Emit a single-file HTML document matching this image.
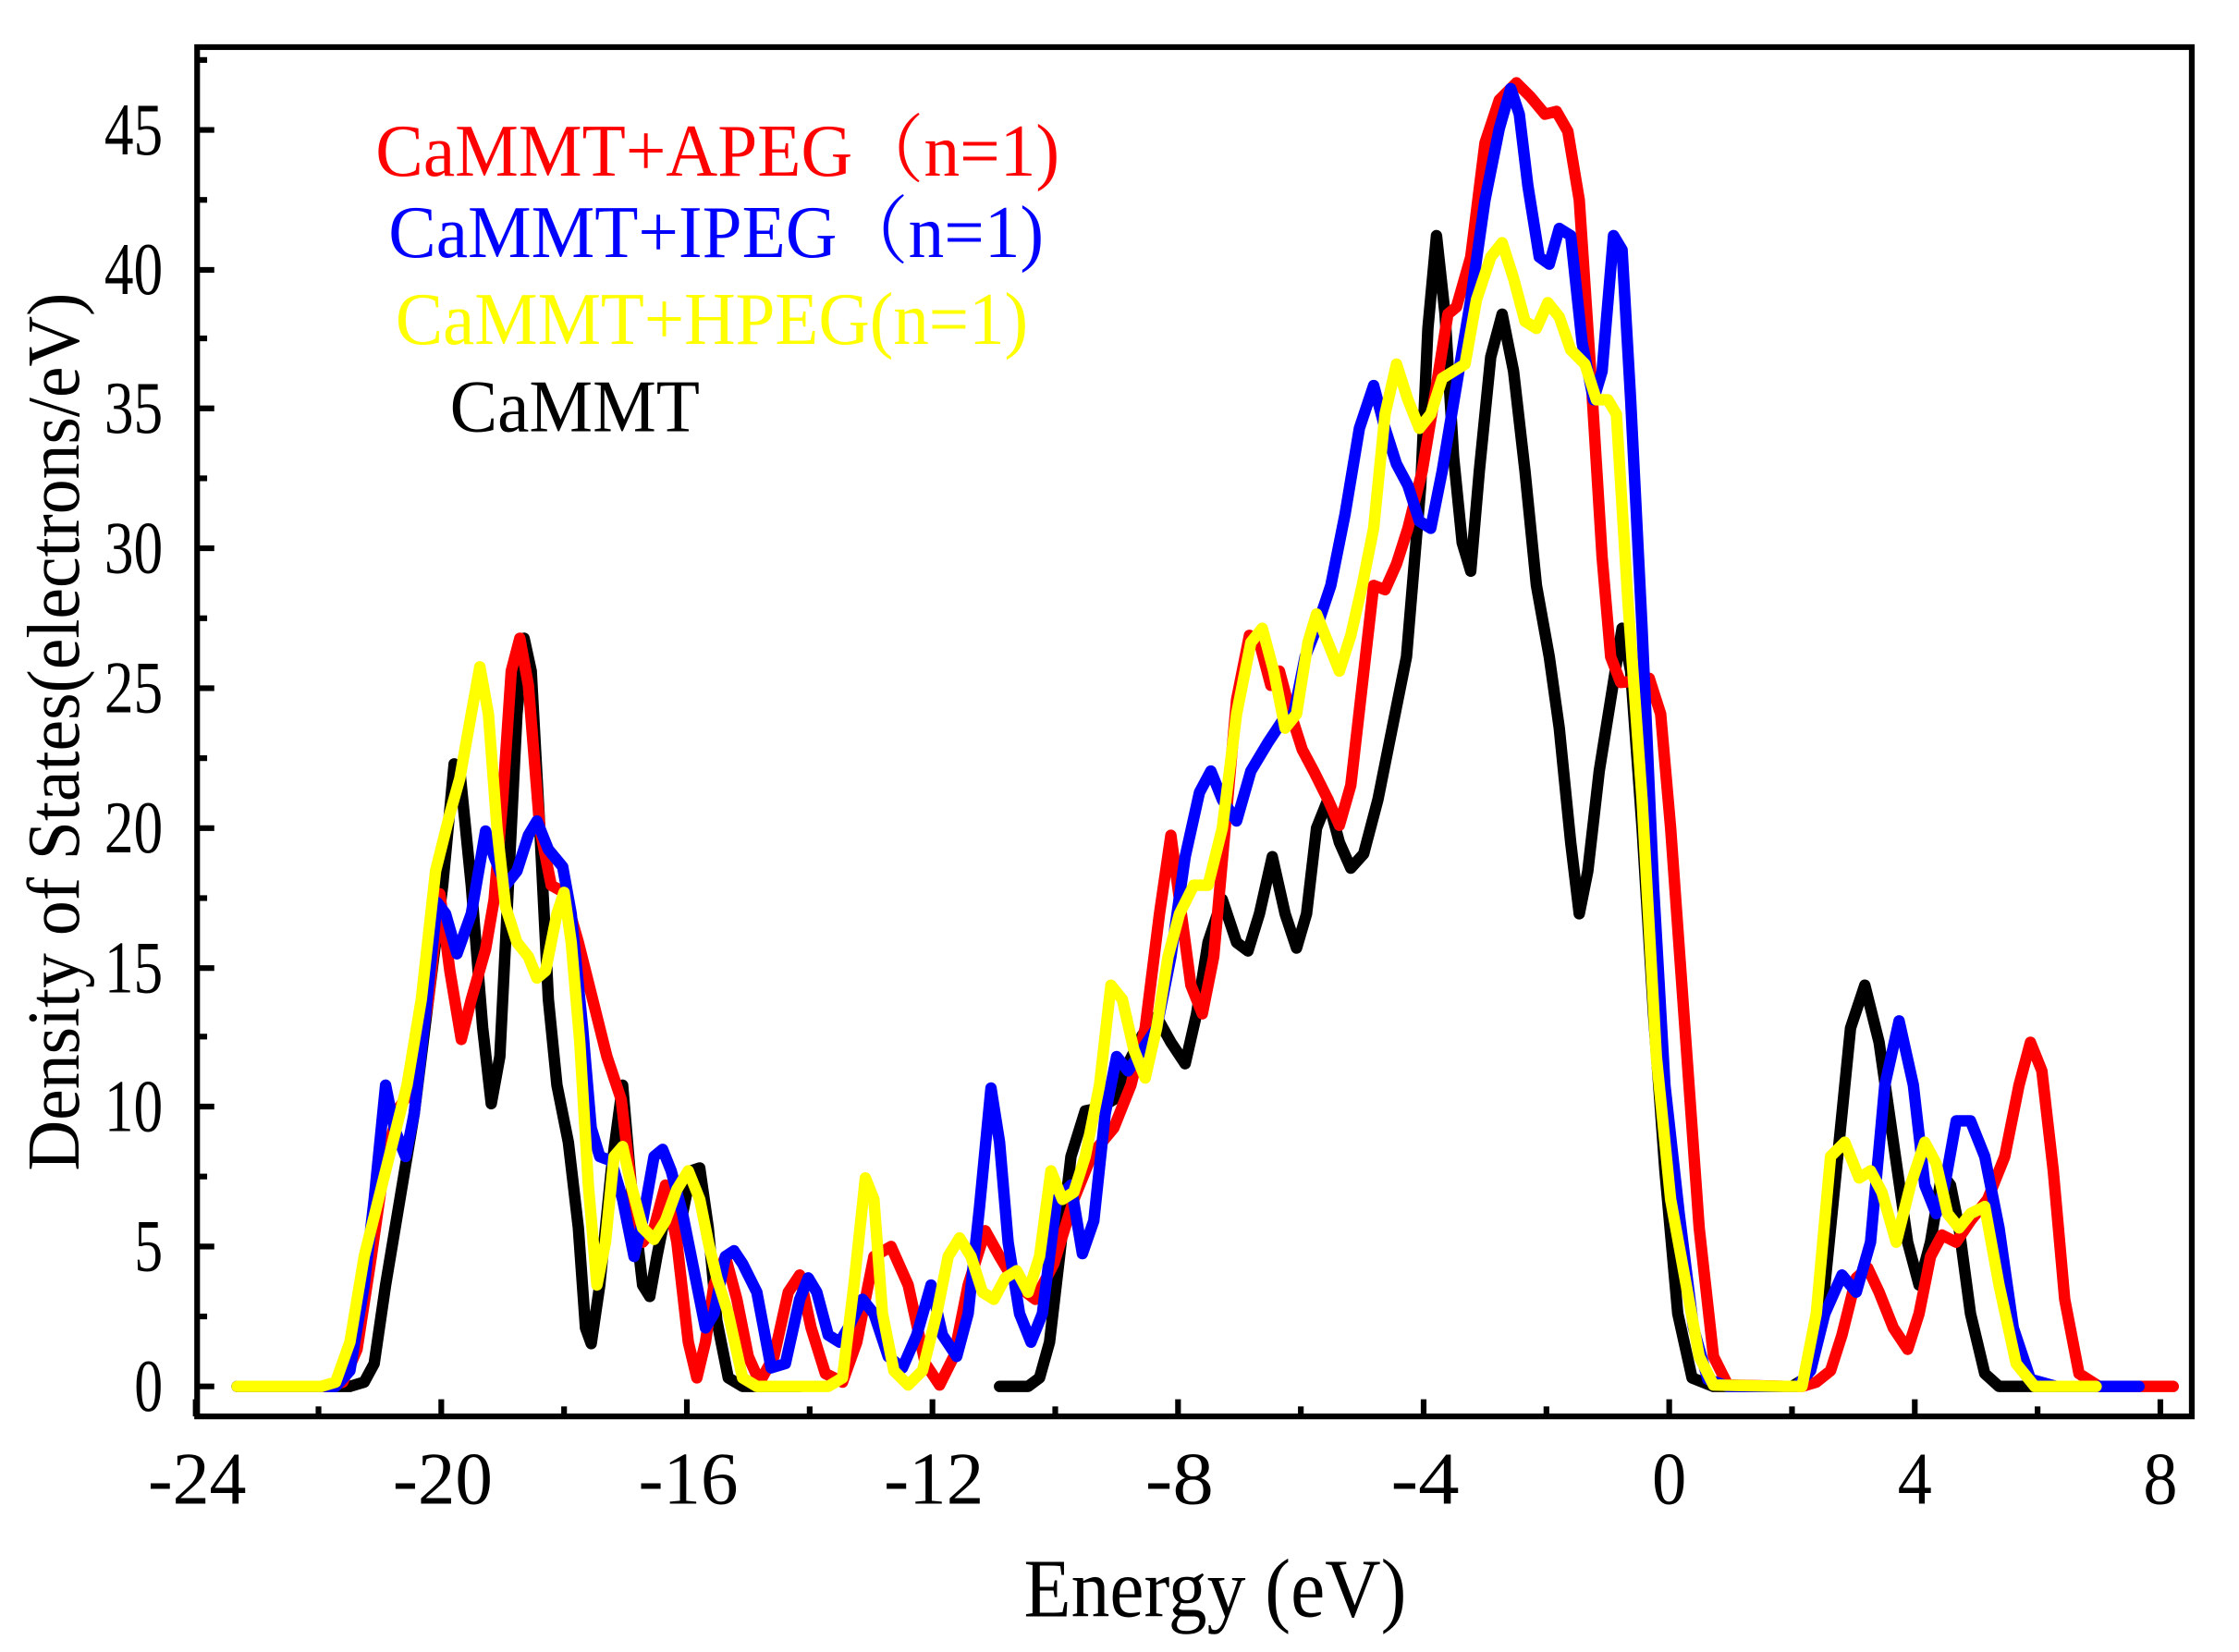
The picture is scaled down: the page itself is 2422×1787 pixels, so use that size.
<!DOCTYPE html>
<html><head><meta charset="utf-8"><style>
html,body{margin:0;padding:0;background:#fff;}
svg{display:block;}
text{font-family:"Liberation Serif","Noto Serif CJK SC",serif;}
</style></head><body>
<svg width="2422" height="1787" viewBox="0 0 1568 1157" xmlns="http://www.w3.org/2000/svg">
<rect width="1568" height="1157" fill="#fff"/>
<g fill="none" stroke-width="8" stroke-linejoin="round" stroke-linecap="round">
<polyline stroke="#000" points="166,971 245,971 255,968 262,955 270,900 280,840 290,780 300,700 310,620 318,535 322,540 330,620 338,720 344,773 350,740 356,620 362,500 367,447 372,470 378,580 384,700 390,760 398,800 405,860 410,930 414,941 420,900 428,820 436,760 442,830 450,900 455,908 460,880 466,850 472,855 478,850 484,820 490,818 496,860 502,925 510,965 520,971 560,971"/>
<polyline stroke="#000" points="700,971 720,971 728,965 735,940 742,880 750,810 760,778 770,776 780,770 790,745 800,725 810,712 820,730 830,745 838,710 846,660 856,630 866,660 874,666 882,640 891,600 900,640 908,664 915,640 922,580 930,560 938,590 946,608 955,598 965,560 975,510 985,460 995,340 1000,230 1006,165 1012,220 1018,320 1024,380 1030,400 1036,330 1044,250 1052,220 1060,260 1068,330 1076,410 1085,460 1092,510 1100,590 1106,640 1112,610 1120,540 1128,490 1136,440 1142,470 1150,580 1158,710 1166,820 1175,920 1185,965 1200,971 1255,971 1265,965 1275,930 1285,830 1296,720 1306,690 1316,730 1326,800 1336,870 1344,900 1352,870 1360,822 1366,830 1372,860 1380,920 1390,962 1400,971 1490,971"/>
<polyline stroke="#ff0000" points="166,971 230,971 240,968 250,945 260,880 270,810 280,775 290,760 300,700 308,626 315,680 323,728 330,700 340,665 346,630 352,560 358,470 364,447 370,480 378,580 386,620 395,625 405,660 415,700 425,740 435,770 442,830 450,870 458,860 466,830 474,870 482,940 488,965 494,940 500,900 508,880 516,910 524,950 532,968 542,950 552,905 560,893 568,930 578,962 590,968 600,940 612,880 624,873 636,900 648,955 658,970 668,950 678,900 690,862 700,880 712,900 725,910 738,885 752,840 765,808 780,790 792,760 802,720 812,640 820,585 826,630 834,690 842,710 850,670 858,580 866,490 875,445 882,450 890,480 896,470 904,500 912,525 920,540 930,560 938,578 946,550 954,480 962,410 970,413 978,395 986,370 996,330 1006,270 1014,220 1020,215 1030,180 1040,100 1050,70 1062,58 1072,68 1082,80 1090,78 1098,92 1106,140 1114,260 1122,390 1128,460 1135,478 1145,477 1155,475 1163,500 1170,580 1180,720 1190,860 1200,950 1210,970 1250,971 1262,971 1272,968 1282,960 1290,935 1300,895 1308,888 1316,905 1326,930 1336,945 1344,920 1352,880 1360,865 1370,870 1380,855 1392,840 1404,810 1414,760 1422,730 1430,750 1438,820 1446,910 1456,962 1470,971 1522,971"/>
<polyline stroke="#0000ff" points="166,971 235,971 245,960 255,900 262,840 270,760 276,790 284,810 290,780 298,710 306,632 312,640 320,668 330,640 340,582 346,600 354,620 362,610 370,585 376,575 384,595 394,607 400,640 408,720 414,790 420,810 428,813 436,840 444,880 450,855 458,810 464,805 470,820 478,850 486,890 494,930 500,920 508,880 514,876 520,885 530,905 540,958 550,955 560,910 566,895 572,905 580,935 588,940 594,930 604,910 612,920 622,950 632,958 642,935 652,900 660,935 670,950 678,920 686,845 694,762 700,800 706,870 714,920 722,940 730,920 740,840 750,830 758,878 766,855 774,780 782,740 790,750 800,735 810,720 820,670 830,600 840,555 848,540 856,560 866,575 876,540 888,520 898,505 906,500 914,460 922,440 932,410 942,360 952,300 962,270 970,300 978,325 986,340 994,365 1002,370 1010,330 1020,270 1030,210 1040,140 1050,90 1058,62 1064,80 1070,130 1078,180 1085,185 1092,160 1100,165 1108,240 1116,280 1122,260 1130,165 1136,175 1142,280 1150,440 1158,620 1166,760 1176,850 1186,930 1196,966 1210,971 1258,971 1268,960 1278,920 1290,893 1300,905 1310,870 1320,760 1330,715 1340,760 1348,830 1356,850 1362,830 1370,785 1380,785 1390,810 1400,860 1410,930 1422,966 1440,971 1498,971"/>
<polyline stroke="#ffff00" points="166,971 225,971 235,968 245,940 255,880 265,840 275,800 285,760 295,700 305,610 315,570 322,545 330,500 336,467 342,500 348,580 354,635 362,660 370,670 376,685 382,680 390,640 395,625 400,660 406,730 412,830 418,900 424,870 430,810 436,803 442,830 450,860 458,868 466,855 474,833 482,820 490,840 496,870 502,895 510,920 520,965 530,971 580,971 590,965 598,900 606,825 612,840 618,920 626,960 636,970 646,960 656,920 664,880 672,867 680,880 688,905 696,910 704,895 712,890 720,905 728,880 736,820 744,840 752,835 760,810 770,760 778,690 786,700 794,735 802,755 810,720 818,670 826,640 836,620 846,620 856,580 866,500 876,450 884,440 892,470 900,510 908,500 916,450 922,430 930,450 938,470 946,445 954,410 962,370 970,290 978,255 986,280 994,300 1002,290 1010,265 1018,260 1026,255 1034,210 1044,180 1052,170 1060,195 1068,225 1076,230 1084,212 1092,222 1100,245 1110,255 1118,280 1126,280 1132,290 1140,420 1150,560 1160,740 1170,840 1180,895 1190,950 1200,970 1250,971 1262,971 1272,920 1282,810 1292,800 1302,825 1310,820 1318,835 1328,870 1338,830 1348,800 1356,815 1364,850 1372,860 1380,850 1390,845 1400,900 1412,955 1425,971 1468,971"/>
</g>
<rect x="138" y="33" width="1397" height="959" fill="none" stroke="#000" stroke-width="4"/>
<g stroke="#000" stroke-width="4">
<line x1="137" y1="992" x2="137" y2="980"/><line x1="309" y1="992" x2="309" y2="980"/><line x1="481" y1="992" x2="481" y2="980"/><line x1="653" y1="992" x2="653" y2="980"/><line x1="825" y1="992" x2="825" y2="980"/><line x1="997" y1="992" x2="997" y2="980"/><line x1="1169" y1="992" x2="1169" y2="980"/><line x1="1341" y1="992" x2="1341" y2="980"/><line x1="1513" y1="992" x2="1513" y2="980"/>
<line x1="223" y1="992" x2="223" y2="985"/><line x1="395" y1="992" x2="395" y2="985"/><line x1="567" y1="992" x2="567" y2="985"/><line x1="739" y1="992" x2="739" y2="985"/><line x1="911" y1="992" x2="911" y2="985"/><line x1="1083" y1="992" x2="1083" y2="985"/><line x1="1255" y1="992" x2="1255" y2="985"/><line x1="1427" y1="992" x2="1427" y2="985"/>
<line x1="138" y1="971" x2="150" y2="971"/><line x1="138" y1="873" x2="150" y2="873"/><line x1="138" y1="775" x2="150" y2="775"/><line x1="138" y1="678" x2="150" y2="678"/><line x1="138" y1="580" x2="150" y2="580"/><line x1="138" y1="482" x2="150" y2="482"/><line x1="138" y1="384" x2="150" y2="384"/><line x1="138" y1="286" x2="150" y2="286"/><line x1="138" y1="189" x2="150" y2="189"/><line x1="138" y1="91" x2="150" y2="91"/>
<line x1="138" y1="922" x2="145" y2="922"/><line x1="138" y1="824" x2="145" y2="824"/><line x1="138" y1="726" x2="145" y2="726"/><line x1="138" y1="629" x2="145" y2="629"/><line x1="138" y1="531" x2="145" y2="531"/><line x1="138" y1="433" x2="145" y2="433"/><line x1="138" y1="335" x2="145" y2="335"/><line x1="138" y1="237" x2="145" y2="237"/><line x1="138" y1="140" x2="145" y2="140"/><line x1="138" y1="42" x2="145" y2="42"/>
</g>
<g font-size="52" fill="#000">
<g text-anchor="end">
<text x="114" y="988" textLength="20" lengthAdjust="spacingAndGlyphs">0</text>
<text x="114" y="890" textLength="20" lengthAdjust="spacingAndGlyphs">5</text>
<text x="114" y="792" textLength="41" lengthAdjust="spacingAndGlyphs">10</text>
<text x="114" y="695" textLength="41" lengthAdjust="spacingAndGlyphs">15</text>
<text x="114" y="597" textLength="41" lengthAdjust="spacingAndGlyphs">20</text>
<text x="114" y="499" textLength="41" lengthAdjust="spacingAndGlyphs">25</text>
<text x="114" y="401" textLength="41" lengthAdjust="spacingAndGlyphs">30</text>
<text x="114" y="303" textLength="41" lengthAdjust="spacingAndGlyphs">35</text>
<text x="114" y="206" textLength="41" lengthAdjust="spacingAndGlyphs">40</text>
<text x="114" y="108" textLength="41" lengthAdjust="spacingAndGlyphs">45</text>
</g>
<g text-anchor="middle">
<text x="138" y="1053" textLength="69" lengthAdjust="spacingAndGlyphs">-24</text>
<text x="310" y="1053" textLength="70" lengthAdjust="spacingAndGlyphs">-20</text>
<text x="482" y="1053" textLength="70" lengthAdjust="spacingAndGlyphs">-16</text>
<text x="654" y="1053" textLength="70" lengthAdjust="spacingAndGlyphs">-12</text>
<text x="826" y="1053" textLength="48" lengthAdjust="spacingAndGlyphs">-8</text>
<text x="998" y="1053" textLength="48" lengthAdjust="spacingAndGlyphs">-4</text>
<text x="1169" y="1053" textLength="24" lengthAdjust="spacingAndGlyphs">0</text>
<text x="1341" y="1053" textLength="24" lengthAdjust="spacingAndGlyphs">4</text>
<text x="1513" y="1053" textLength="24" lengthAdjust="spacingAndGlyphs">8</text>
</g>
<text x="717" y="1132" font-size="58" textLength="268" lengthAdjust="spacingAndGlyphs">Energy (eV)</text>
<text transform="translate(55,820) rotate(-90)" font-size="52" textLength="615" lengthAdjust="spacingAndGlyphs">Density of States(electrons/eV)</text>
<text x="263" y="123" fill="#ff0000" textLength="479" lengthAdjust="spacingAndGlyphs">CaMMT+APEG（n=1)</text>
<text x="272" y="180" fill="#0000ff" textLength="459" lengthAdjust="spacingAndGlyphs">CaMMT+IPEG（n=1)</text>
<text x="277" y="241" fill="#ffff00" textLength="443" lengthAdjust="spacingAndGlyphs">CaMMT+HPEG(n=1)</text>
<text x="315" y="302" fill="#000" textLength="175" lengthAdjust="spacingAndGlyphs">CaMMT</text>
</g>
</svg>
</body></html>
